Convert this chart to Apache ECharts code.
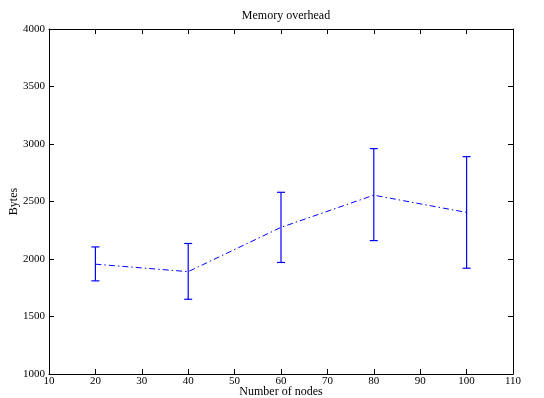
<!DOCTYPE html>
<html>
<head>
<meta charset="utf-8">
<script src="https://cdn.jsdelivr.net/npm/echarts@6/dist/echarts.min.js"></script>
<style>
  html, body { margin: 0; padding: 0; background: #fff; }
  #chart { width: 544px; height: 398px; }
</style>
</head>
<body>
<div id="chart"></div>
<script>
  // data
  let nodes = [20, 40, 60, 80, 100]
  let meanBytes = [1955, 1890, 2275, 2555, 2405]
  let lowBytes = [1810, 1650, 1970, 2160, 1920]
  let highBytes = [2105, 2135, 2580, 2960, 2890]

  let font = 'Liberation Serif'
  let blue = '#0000ff'

  let chart = echarts.init(document.getElementById('chart'))

  let errData = nodes.map((x, i) => [x, lowBytes[i], highBytes[i]])
  let lineData = nodes.map((x, i) => [x, meanBytes[i]])

  let tickIn = { show: true, inside: true, length: 5, lineStyle: { color: '#000' } }

  chart.setOption({
    animation: false,
    title: {
      text: 'Memory overhead',
      left: 281, top: 5, textAlign: 'center',
      textStyle: { fontFamily: font, fontSize: 12, fontWeight: 'normal', color: '#000' }
    },
    grid: { left: 49, right: 31, top: 29, bottom: 24, outerBoundsMode: 'none', containLabel: false },
    xAxis: [{
      type: 'value', min: 10, max: 110, interval: 10,
      name: 'Number of nodes', nameLocation: 'middle', nameGap: 12, nameMoveOverlap: false,
      nameTextStyle: { fontFamily: font, fontSize: 12, color: '#000' },
      axisLine: { show: true, lineStyle: { color: '#000', width: 1 } },
      axisTick: tickIn,
      axisLabel: { fontFamily: font, fontSize: 11, color: '#000', margin: 2 },
      splitLine: { show: false }
    }, {
      type: 'value', min: 10, max: 110, interval: 10, position: 'top',
      axisLine: { show: true, lineStyle: { color: '#000', width: 1 } },
      axisTick: tickIn, axisLabel: { show: false }, splitLine: { show: false }
    }],
    yAxis: [{
      type: 'value', min: 1000, max: 4000, interval: 500,
      name: 'Bytes', nameLocation: 'middle', nameGap: 29, nameMoveOverlap: false,
      nameTextStyle: { fontFamily: font, fontSize: 12, color: '#000' },
      axisLine: { show: true, lineStyle: { color: '#000', width: 1 } },
      axisTick: tickIn,
      axisLabel: { fontFamily: font, fontSize: 11, color: '#000', margin: 4, formatter: v => String(v) },
      splitLine: { show: false }
    }, {
      type: 'value', min: 1000, max: 4000, interval: 500, position: 'right',
      axisLine: { show: true, lineStyle: { color: '#000', width: 1 } },
      axisTick: tickIn, axisLabel: { show: false }, splitLine: { show: false }
    }],
    series: [{
      type: 'line',
      data: lineData,
      symbol: 'none',
      lineStyle: { color: blue, width: 1, type: [6, 3, 1.5, 3] }
    }, {
      type: 'custom',
      data: errData,
      renderItem: function (params, api) {
        let x = api.value(0)
        let lo = api.coord([x, api.value(1)])
        let hi = api.coord([x, api.value(2)])
        let cap = 4
        let style = { stroke: blue, lineWidth: 1.2 }
        return {
          type: 'group',
          children: [
            { type: 'line', shape: { x1: lo[0], y1: lo[1], x2: hi[0], y2: hi[1] }, style: style },
            { type: 'line', shape: { x1: lo[0] - cap, y1: lo[1], x2: lo[0] + cap, y2: lo[1] }, style: style },
            { type: 'line', shape: { x1: hi[0] - cap, y1: hi[1], x2: hi[0] + cap, y2: hi[1] }, style: style }
          ]
        }
      }
    }]
  })
</script>
</body>
</html>
